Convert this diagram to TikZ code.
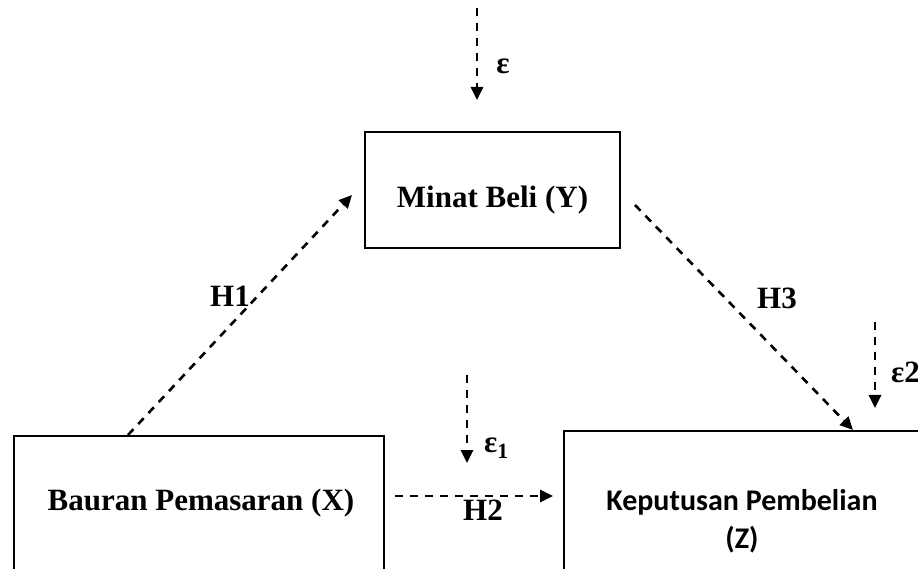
\documentclass[tikz,border=0pt]{standalone}
\usepackage{fontspec}
\setmainfont{Liberation Serif}
\newfontfamily\calib{Carlito}
\usetikzlibrary{arrows.meta}
\begin{document}
\begin{tikzpicture}[x=1pt,y=1pt,
  boxnode/.style={draw,line width=1.8pt,rectangle,inner sep=0pt},
  txt/.style={font=\fontsize{31}{37}\selectfont\bfseries,inner sep=0pt},
  darrow/.style={line width=2.6pt,dash pattern=on 8pt off 7pt,-{Triangle[length=13pt,width=12pt]}}]
\useasboundingbox (0,0) rectangle (918,568);
\clip (0,0) rectangle (918,568);
% boxes
\node[boxnode,minimum width=255pt,minimum height=116pt] (ybox) at (492.5,378) {};
\node[txt] (ytxt) at (492.5,368) {Minat Beli (Y)};
\node[boxnode,minimum width=370pt,minimum height=200pt,anchor=north west] (xbox) at (13,133) {};
\node[txt] (xtxt) at (201,65) {Bauran Pemasaran (X)};
\node[boxnode,minimum width=450pt,minimum height=200pt,anchor=north west] (zbox) at (563,138) {};
\node[txt,font=\fontsize{30}{38}\selectfont\calib\bfseries,align=center] (ztxt) at (742,47) {Keputusan Pembelian\\(Z)};
% coordinates
\coordinate (h1s) at (128,133);
\coordinate (h1e) at (352,373);
\coordinate (h3s) at (635,363);
\coordinate (h3e) at (853,138);
\coordinate (h2s) at (395,72);
\coordinate (h2e) at (553,72);
\coordinate (es) at (477,560);
\coordinate (ee) at (477,468);
\coordinate (e1s) at (467,193);
\coordinate (e1e) at (467,105);
\coordinate (e2s) at (875,246);
\coordinate (e2e) at (875,160);
% arrows
\draw[darrow] (h1s) -- (h1e);
\draw[darrow] (h3s) -- (h3e);
\draw[darrow] (h2s) -- (h2e);
\draw[darrow] (es) -- (ee);
\draw[darrow] (e1s) -- (e1e);
\draw[darrow] (e2s) -- (e2e);
% labels
\node[txt] (h1l) at (230,272) {H1};
\node[txt] (h3l) at (777,270) {H3};
\node[txt] (h2l) at (483,58) {H2};
\node[txt] (el) at (503,502) {ε};
\node[txt,anchor=west] (e1l) at (484,120) {ε$_{\mathbf{1}}$};
\node[txt,anchor=west] (e2l) at (891,196) {ε2};
\end{tikzpicture}
\end{document}
